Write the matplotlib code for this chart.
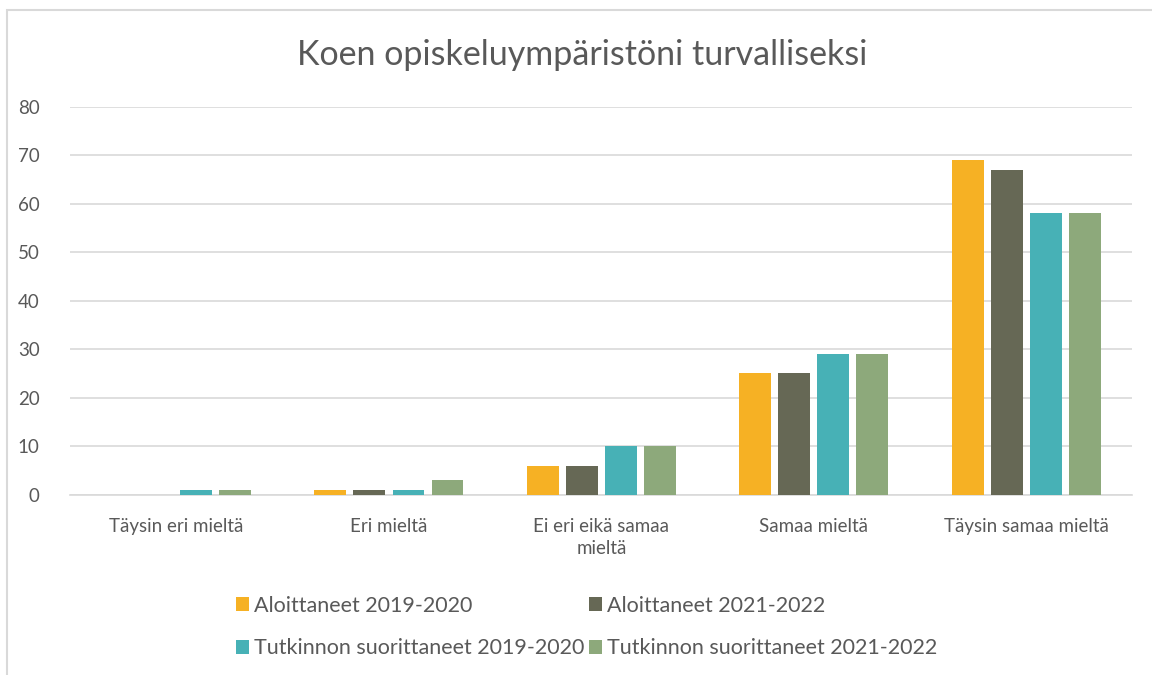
import numpy as np
import matplotlib.pyplot as plt
from matplotlib.patches import Rectangle

categories = ["Täysin eri mieltä", "Eri mieltä", "Ei eri eikä samaa\nmieltä",
              "Samaa mieltä", "Täysin samaa mieltä"]
series_names = ["Aloittaneet 2019-2020", "Aloittaneet 2021-2022",
                "Tutkinnon suorittaneet 2019-2020", "Tutkinnon suorittaneet 2021-2022"]
aloit_1920 = [0, 1, 6, 25, 69]
aloit_2122 = [0, 1, 6, 25, 67]
tutk_1920 = [1, 1, 10, 29, 58]
tutk_2122 = [1, 3, 10, 29, 58]
colors = ["#F6B124", "#666855", "#47B1B6", "#8DA97B"]

plt.rcParams['font.family'] = ['Lato', 'DejaVu Sans']
text_col = "#595959"

fig = plt.figure(figsize=(11.52, 6.75), dpi=100)
ax = fig.add_axes([0.061, 0.267, 0.922, 0.575])

x = np.arange(len(categories))
w = 0.15
step = 0.184
for i, vals in enumerate([aloit_1920, aloit_2122, tutk_1920, tutk_2122]):
    ax.bar(x + (i - 1.5) * step, vals, w, color=colors[i], label=series_names[i], zorder=3)

ax.set_xlim(-0.5, len(categories) - 0.5)
ax.set_ylim(0, 80)
ax.set_yticks(range(0, 81, 10))
ax.yaxis.grid(True, color="#D9D9D9", linewidth=1.2, zorder=0)
for s in ["top", "right", "left"]:
    ax.spines[s].set_visible(False)
ax.spines["bottom"].set_color("#D9D9D9")
ax.spines["bottom"].set_linewidth(1.2)
ax.tick_params(length=0, labelsize=13.5, colors=text_col)
ax.tick_params(axis="x", pad=17)
ax.tick_params(axis="y", pad=22)
ax.set_xticks(x)
ax.set_xticklabels(categories, linespacing=1.3)

fig.text(0.505, 0.918, "Koen opiskeluympäristöni turvalliseksi", ha="center", va="center",
         fontsize=24.5, color=text_col)

h, l = ax.get_legend_handles_labels()
order = [0, 2, 1, 3]
fig.legend([h[i] for i in order], [l[i] for i in order], loc="center left",
           bbox_to_anchor=(0.188, 0.071), ncol=2, frameon=False,
           fontsize=15.5, labelcolor=text_col, handlelength=0.6, handleheight=0.6,
           handletextpad=0.25, columnspacing=0.2, labelspacing=1.05)

fig.patches.append(Rectangle((0.006, -0.1), 1.2, 1.085, transform=fig.transFigure,
                             fill=False, edgecolor="#D9D9D9", linewidth=1.5))

fig.savefig("out.png", dpi=100)
